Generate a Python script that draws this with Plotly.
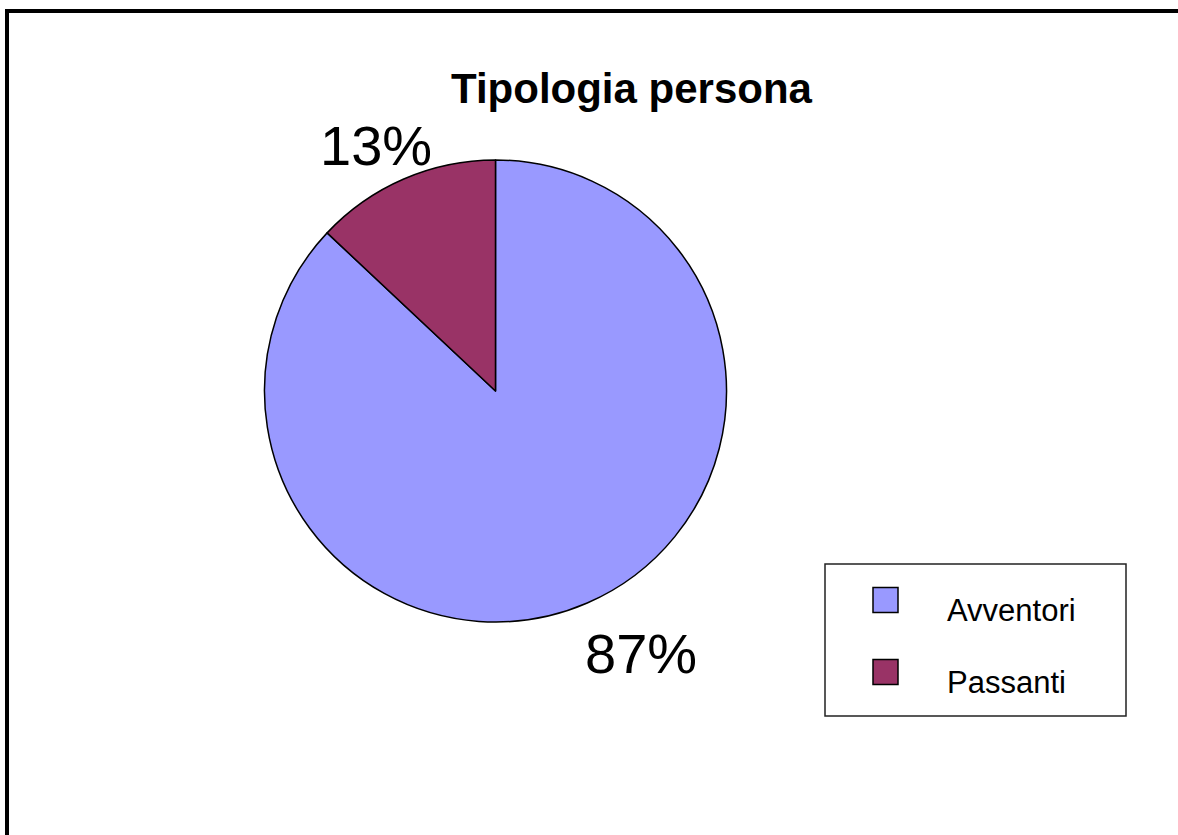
import plotly.graph_objects as go

# Data
labels = ["Avventori", "Passanti"]
values = [87, 13]
colors = ["#9999FF", "#993366"]
title_text = "Tipologia persona"

# Layout helpers (pixels)
W, H = 1178, 835
FONT = "Liberation Sans, Arial, sans-serif"
pie_box = (264, 727, 160, 622)          # left, right, top, bottom of pie
label_pos = [(641, 653), (376, 145)]    # data-label centres (layout, per slice)

def px(x):
    return x / W

def py(y):
    return 1 - y / H

fig = go.Figure()
fig.add_trace(go.Pie(
    labels=labels,
    values=values,
    marker=dict(colors=colors, line=dict(color="black", width=1.5)),
    sort=False,
    direction="clockwise",
    rotation=0,
    textinfo="none",
    domain=dict(x=[px(pie_box[0]), px(pie_box[1])], y=[py(pie_box[3]), py(pie_box[2])]),
    showlegend=False,
    hoverinfo="label+percent",
))

shapes = []
annotations = []

# Percentage data labels computed from the values
total = sum(values)
for v, (lxp, lyp) in zip(values, label_pos):
    annotations.append(dict(text=f"{round(100 * v / total)}%", xref="paper", yref="paper",
                            x=px(lxp), y=py(lyp), xanchor="center", yanchor="middle",
                            showarrow=False, font=dict(family=FONT, size=56, color="black")))

# Outer chart border (extends beyond the visible window on right/bottom)
shapes.append(dict(type="rect", xref="paper", yref="paper",
                   x0=px(7), x1=1.05, y0=py(11), y1=-0.05,
                   line=dict(color="black", width=4), fillcolor="rgba(0,0,0,0)", layer="above"))

# Legend box
lx0, lx1, ly0, ly1 = 825, 1126, 564, 716
shapes.append(dict(type="rect", xref="paper", yref="paper",
                   x0=px(lx0), x1=px(lx1), y0=py(ly1), y1=py(ly0),
                   line=dict(color="#222222", width=1.5), fillcolor="white"))
row_y = [600, 672]
for lab, col, yc in zip(labels, colors, row_y):
    shapes.append(dict(type="rect", xref="paper", yref="paper",
                       x0=px(873), x1=px(898), y0=py(yc + 12.5), y1=py(yc - 12.5),
                       line=dict(color="black", width=1.5), fillcolor=col))
    annotations.append(dict(text=lab, xref="paper", yref="paper",
                            x=px(945), y=py(yc + 10), xanchor="left", yanchor="middle",
                            showarrow=False, font=dict(family=FONT, size=31, color="black")))

# Title
annotations.append(dict(text="<b>" + title_text + "</b>", xref="paper", yref="paper",
                        x=px(632), y=py(88), xanchor="center", yanchor="middle",
                        showarrow=False, font=dict(family=FONT, size=42, color="black")))

fig.update_layout(
    width=W, height=H,
    margin=dict(l=0, r=0, t=0, b=0),
    paper_bgcolor="white",
    plot_bgcolor="white",
    shapes=shapes,
    annotations=annotations,
    showlegend=False,
)

fig.write_html("out.html",
               config={"displayModeBar": False},
               post_script="document.body.style.margin='0';document.body.style.overflow='hidden';")
